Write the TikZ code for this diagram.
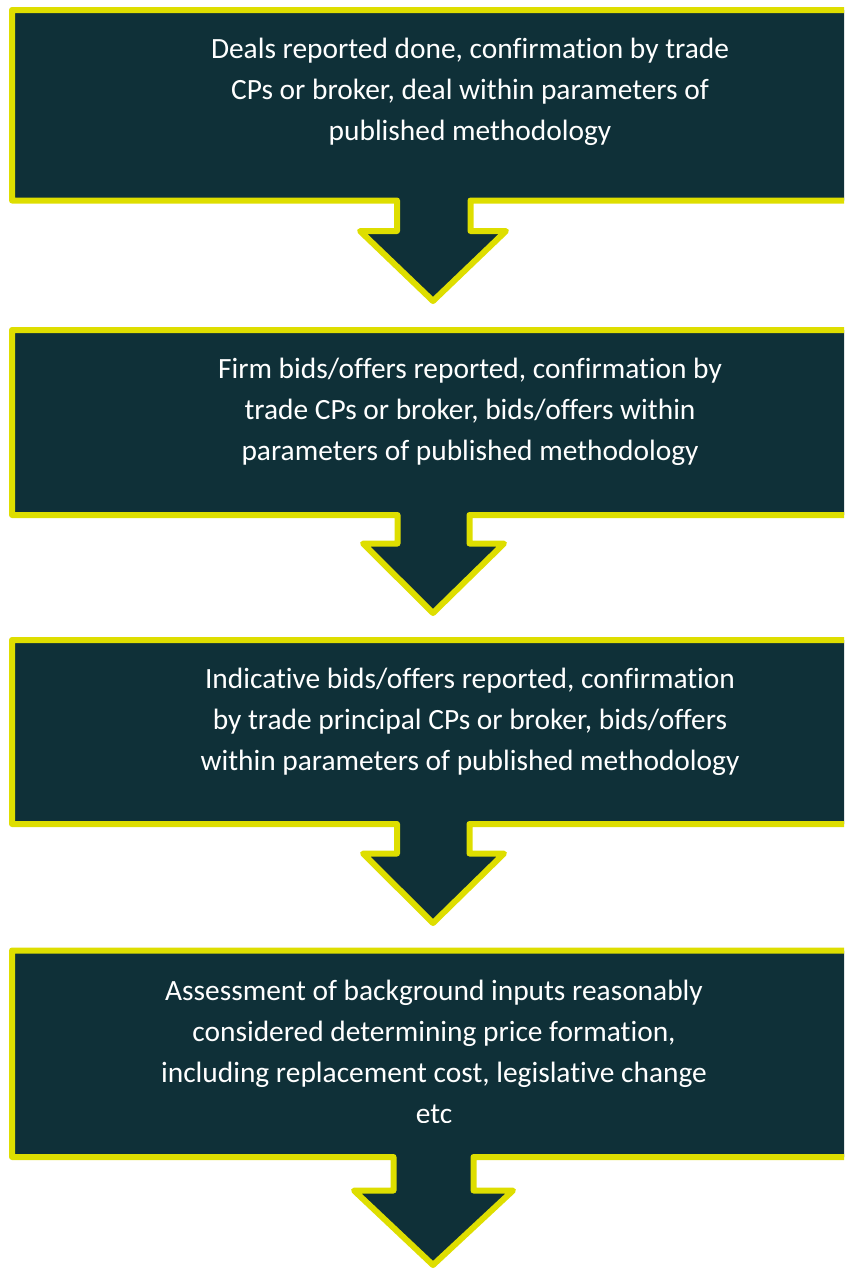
\documentclass[tikz,border=0pt]{standalone}
\usepackage{fontspec}
\setmainfont{Carlito}[Ligatures=NoCommon]
\definecolor{stagefill}{HTML}{0F3038}
\definecolor{stageline}{HTML}{DEDE00}
\begin{document}
\begin{tikzpicture}[
  x=1pt, y=-1pt,
  font=\fontsize{29.4}{41}\selectfont,
  stage/.style={fill=stagefill, draw=stageline, line width=6pt, line join=round},
  stagetext/.style={anchor=base, text=white, inner sep=0pt}
]
\clip (0,0) rectangle (844,1269);

% Box edges (right edge runs off the page) and arrow tip column
\def\boxl{12}
\def\boxr{900}
\def\tipx{433}

% Boxes with their down arrows: top/bottom/shaft left/shaft right/head top/head left/head right/tip
\foreach \ytop/\ybot/\sleft/\sright/\hdy/\hdl/\hdr/\tipy in {
  10/200.5/397/470.5/231/360/506/301,
  330/515/397.5/469.5/543.5/363/504/613,
  640/824/397/469.5/853.5/363/504/923,
  950.5/1157/393.5/473.5/1190.5/354/513/1265%
}{
  \draw[stage] (\boxl,\ytop) -- (\boxr,\ytop) -- (\boxr,\ybot) -- (\sright,\ybot)
    -- (\sright,\hdy) -- (\hdr,\hdy) -- (\tipx,\tipy) -- (\hdl,\hdy)
    -- (\sleft,\hdy) -- (\sleft,\ybot) -- (\boxl,\ybot) -- cycle;
}

% Stage texts, one node per line
\foreach \name/\cx/\by/\txt in {
  deals1/470/58/{Deals reported done, confirmation by trade},
  deals2/470/99/{CPs or broker, deal within parameters of},
  deals3/470/140/{published methodology},
  firm1/470/378/{Firm bids/offers reported, confirmation by},
  firm2/470/419/{trade CPs or broker, bids/offers within},
  firm3/470/460/{parameters of published methodology},
  indic1/470/688/{Indicative bids/offers reported, confirmation},
  indic2/470/729/{by trade principal CPs or broker, bids/offers},
  indic3/470/770/{within parameters of published methodology},
  assess1/434/1000/{Assessment of background inputs reasonably},
  assess2/434/1041/{considered determining price formation,},
  assess3/434/1082/{including replacement cost, legislative change}%
}{
  \node[stagetext] (\name) at (\cx,\by) {\txt};
}

% Last line is cut off by its text frame
\begin{scope}
  \clip (0,0) rectangle (844,1122.5);
  \node[stagetext] (assess4) at (434,1123) {etc};
\end{scope}

\end{tikzpicture}
\end{document}
